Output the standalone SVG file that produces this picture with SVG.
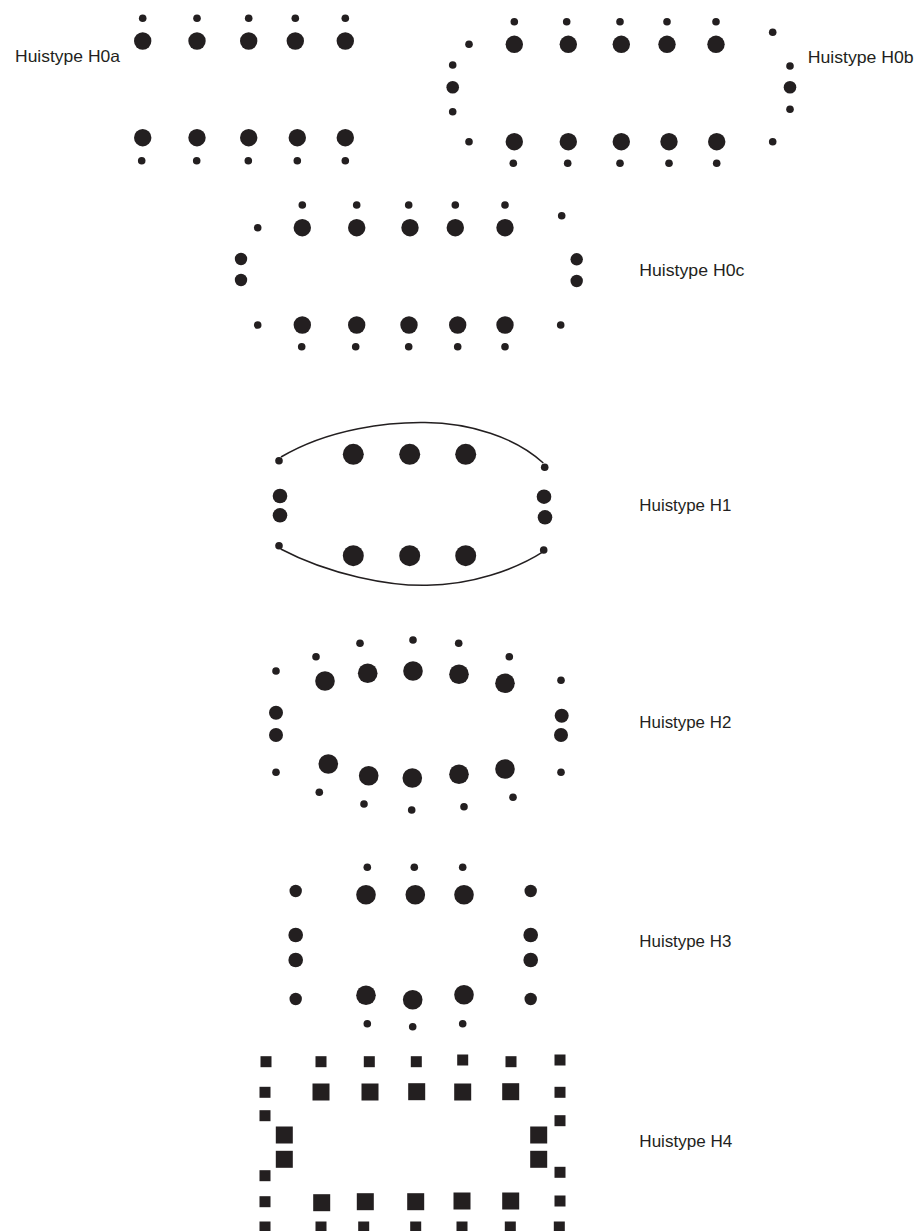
<svg xmlns="http://www.w3.org/2000/svg" width="920" height="1231" viewBox="0 0 920 1231">
<style>
.d{fill:#231f20}
.t{font-family:"Liberation Sans",Arial,sans-serif;font-size:16.5px;fill:#231f20}
.arc{fill:none;stroke:#231f20;stroke-width:1.5}
</style>
<rect width="920" height="1231" fill="#fff"/>
<g id="h0a" class="d">
<circle cx="142.7" cy="18.2" r="3.8"/><circle cx="197" cy="18.2" r="3.8"/><circle cx="248.7" cy="18.2" r="3.8"/><circle cx="295.3" cy="18.2" r="3.8"/><circle cx="345.3" cy="18.2" r="3.8"/>
<circle cx="142.7" cy="41" r="8.7"/><circle cx="197" cy="41" r="8.7"/><circle cx="248.7" cy="41" r="8.7"/><circle cx="295.3" cy="41" r="8.7"/><circle cx="345.3" cy="41" r="8.7"/>
<circle cx="142.7" cy="137.7" r="8.7"/><circle cx="197" cy="137.7" r="8.7"/><circle cx="248.7" cy="137.7" r="8.7"/><circle cx="297.3" cy="137.7" r="8.7"/><circle cx="345.3" cy="137.7" r="8.7"/>
<circle cx="141.7" cy="160.7" r="3.8"/><circle cx="196.7" cy="160.7" r="3.8"/><circle cx="248.3" cy="160.7" r="3.8"/><circle cx="297.3" cy="160.7" r="3.8"/><circle cx="345.3" cy="160.7" r="3.8"/>
<text class="t" x="15" y="61.7" textLength="105" lengthAdjust="spacingAndGlyphs">Huistype H0a</text>
</g>
<g id="h0b" class="d">
<circle cx="514.3" cy="21.7" r="3.8"/><circle cx="566.7" cy="21.7" r="3.8"/><circle cx="620" cy="21.7" r="3.8"/><circle cx="667" cy="21.7" r="3.8"/><circle cx="716" cy="21.7" r="3.8"/>
<circle cx="514.3" cy="44.3" r="8.7"/><circle cx="568.3" cy="44.3" r="8.7"/><circle cx="621.3" cy="44.3" r="8.7"/><circle cx="667" cy="44.3" r="8.7"/><circle cx="716" cy="44.3" r="8.7"/>
<circle cx="469" cy="44.3" r="3.8"/><circle cx="452.7" cy="65" r="3.8"/><circle cx="452.7" cy="87.3" r="6.3"/><circle cx="452.7" cy="111.7" r="3.8"/><circle cx="469" cy="141.7" r="3.8"/>
<circle cx="514.3" cy="141.7" r="8.7"/><circle cx="568.3" cy="141.7" r="8.7"/><circle cx="621.3" cy="141.7" r="8.7"/><circle cx="669" cy="141.7" r="8.7"/><circle cx="716.7" cy="141.7" r="8.7"/>
<circle cx="513.3" cy="163.3" r="3.8"/><circle cx="567.7" cy="163.3" r="3.8"/><circle cx="620" cy="163.3" r="3.8"/><circle cx="669" cy="163.3" r="3.8"/><circle cx="716.7" cy="163.3" r="3.8"/>
<circle cx="772.7" cy="32.3" r="3.8"/><circle cx="790" cy="66" r="3.8"/><circle cx="790" cy="87.3" r="6.3"/><circle cx="790" cy="109.3" r="3.8"/><circle cx="772.7" cy="141.7" r="3.8"/>
<text class="t" x="807.7" y="62.5" textLength="106" lengthAdjust="spacingAndGlyphs">Huistype H0b</text>
</g>
<g id="h0c" class="d">
<circle cx="302.3" cy="205" r="3.8"/><circle cx="356.7" cy="205" r="3.8"/><circle cx="408.7" cy="205" r="3.8"/><circle cx="455.3" cy="205" r="3.8"/><circle cx="505" cy="205" r="3.8"/>
<circle cx="302.3" cy="227.7" r="8.7"/><circle cx="356.7" cy="227.7" r="8.7"/><circle cx="410" cy="227.7" r="8.7"/><circle cx="455.3" cy="227.7" r="8.7"/><circle cx="505" cy="227.7" r="8.7"/>
<circle cx="257.7" cy="227.7" r="3.8"/><circle cx="241" cy="259" r="6.2"/><circle cx="241" cy="280" r="6.2"/><circle cx="257.7" cy="325" r="3.8"/>
<circle cx="302.3" cy="325" r="8.7"/><circle cx="356.7" cy="325" r="8.7"/><circle cx="409" cy="325" r="8.7"/><circle cx="457.7" cy="325" r="8.7"/><circle cx="505" cy="325" r="8.7"/>
<circle cx="301.7" cy="346.7" r="3.8"/><circle cx="355.7" cy="346.7" r="3.8"/><circle cx="408.7" cy="346.7" r="3.8"/><circle cx="457.7" cy="346.7" r="3.8"/><circle cx="505" cy="346.7" r="3.8"/>
<circle cx="561.7" cy="215.7" r="3.8"/><circle cx="576.7" cy="259.3" r="6.2"/><circle cx="576.7" cy="281" r="6.2"/><circle cx="560.7" cy="325" r="3.8"/>
<text class="t" x="639.3" y="275.7" textLength="105" lengthAdjust="spacingAndGlyphs">Huistype H0c</text>
</g>
<g id="h1" class="d">
<path class="arc" d="M281,457 C330,428 390,422 425,422.5 C470,423 515,437 543.3,463"/>
<path class="arc" d="M280.7,549 C330,575 390,586 427,585.3 C470,585 515,570 543.3,551.7"/>
<circle cx="353.3" cy="454.3" r="10.5"/><circle cx="409.7" cy="454.3" r="10.5"/><circle cx="465.7" cy="454.3" r="10.5"/>
<circle cx="353.3" cy="555.7" r="10.5"/><circle cx="409.7" cy="555.7" r="10.5"/><circle cx="465.7" cy="555.7" r="10.5"/>
<circle cx="279" cy="460.7" r="3.8"/><circle cx="280" cy="496" r="7.3"/><circle cx="280" cy="515.3" r="7.3"/><circle cx="279" cy="545.7" r="3.8"/>
<circle cx="544.7" cy="467.3" r="3.8"/><circle cx="544" cy="496.7" r="7.3"/><circle cx="545" cy="517.3" r="7.3"/><circle cx="543.7" cy="550" r="3.8"/>
<text class="t" x="639.3" y="510.7" textLength="92" lengthAdjust="spacingAndGlyphs">Huistype H1</text>
</g>
<g id="h2" class="d">
<circle cx="276" cy="671" r="3.8"/><circle cx="316" cy="656.7" r="3.8"/><circle cx="360" cy="643.3" r="3.8"/><circle cx="413" cy="640" r="3.8"/><circle cx="458.7" cy="643.3" r="3.8"/><circle cx="509.3" cy="656.7" r="3.8"/><circle cx="561" cy="680.3" r="3.8"/>
<circle cx="325" cy="681" r="9.8"/><circle cx="367.7" cy="673.3" r="9.8"/><circle cx="413" cy="671" r="9.8"/><circle cx="459" cy="674.3" r="9.8"/><circle cx="505" cy="683.3" r="9.8"/>
<circle cx="276" cy="712.7" r="7"/><circle cx="276" cy="735" r="7"/><circle cx="561.7" cy="715.7" r="7"/><circle cx="561" cy="735" r="7"/>
<circle cx="276" cy="772.3" r="3.8"/><circle cx="561" cy="772.3" r="3.8"/>
<circle cx="328.3" cy="764" r="9.8"/><circle cx="368.7" cy="775.7" r="9.8"/><circle cx="412.3" cy="778" r="9.8"/><circle cx="459" cy="774.3" r="9.8"/><circle cx="505" cy="769" r="9.8"/>
<circle cx="319.3" cy="792.3" r="3.8"/><circle cx="364" cy="804" r="3.8"/><circle cx="411.7" cy="810" r="3.8"/><circle cx="464" cy="806.7" r="3.8"/><circle cx="513" cy="797.3" r="3.8"/>
<text class="t" x="639.3" y="728.4" textLength="92" lengthAdjust="spacingAndGlyphs">Huistype H2</text>
</g>
<g id="h3" class="d">
<circle cx="367.3" cy="867.3" r="3.8"/><circle cx="414.3" cy="867.3" r="3.8"/><circle cx="462.7" cy="867.3" r="3.8"/>
<circle cx="366" cy="894.7" r="9.8"/><circle cx="415.3" cy="894.7" r="9.8"/><circle cx="464" cy="894.7" r="9.8"/>
<circle cx="295.7" cy="891" r="6.2"/><circle cx="295.7" cy="935" r="7.3"/><circle cx="295.7" cy="960" r="7.3"/><circle cx="295.7" cy="999" r="6.2"/>
<circle cx="530.7" cy="891" r="6.2"/><circle cx="530.7" cy="935" r="7.3"/><circle cx="530.7" cy="960" r="7.3"/><circle cx="530.7" cy="999" r="6.2"/>
<circle cx="366" cy="995.3" r="9.8"/><circle cx="412.7" cy="999.7" r="9.8"/><circle cx="464" cy="994.7" r="9.8"/>
<circle cx="367.3" cy="1023.7" r="3.8"/><circle cx="412.7" cy="1026.7" r="3.8"/><circle cx="462.7" cy="1023.7" r="3.8"/>
<text class="t" x="639.3" y="947.4" textLength="92" lengthAdjust="spacingAndGlyphs">Huistype H3</text>
</g>
<g id="h4" class="d">
<rect x="260.5" y="1056.2" width="11" height="11"/><rect x="315.5" y="1056.2" width="11" height="11"/><rect x="363.8" y="1056.2" width="11" height="11"/><rect x="410.8" y="1056.2" width="11" height="11"/><rect x="457.2" y="1054.5" width="11" height="11"/><rect x="505.5" y="1056.2" width="11" height="11"/><rect x="554.5" y="1054.5" width="11" height="11"/>
<rect x="259.5" y="1086.8" width="11" height="11"/><rect x="554.5" y="1086.8" width="11" height="11"/>
<rect x="312.5" y="1083.5" width="17" height="17"/><rect x="361.5" y="1083.5" width="17" height="17"/><rect x="408.2" y="1083.2" width="17" height="17"/><rect x="454.2" y="1083.5" width="17" height="17"/><rect x="502.2" y="1083.2" width="17" height="17"/>
<rect x="259.5" y="1110.2" width="11" height="11"/><rect x="554.5" y="1115.2" width="11" height="11"/>
<rect x="275.8" y="1126.5" width="17" height="17"/><rect x="275.8" y="1150.8" width="17" height="17"/><rect x="530.2" y="1126.5" width="17" height="17"/><rect x="530.2" y="1150.8" width="17" height="17"/>
<rect x="259.5" y="1170.2" width="11" height="11"/><rect x="554.5" y="1166.8" width="11" height="11"/>
<rect x="313.2" y="1194.2" width="17" height="17"/><rect x="356.8" y="1193.2" width="17" height="17"/><rect x="407.2" y="1193.2" width="17" height="17"/><rect x="453.5" y="1192.5" width="17" height="17"/><rect x="502.2" y="1192.5" width="17" height="17"/>
<rect x="259.5" y="1196.2" width="11" height="11"/><rect x="554.5" y="1195.5" width="11" height="11"/>
<rect x="259.5" y="1221.5" width="11" height="11"/><rect x="315.5" y="1221.5" width="11" height="11"/><rect x="358.2" y="1221.5" width="11" height="11"/><rect x="410.2" y="1221.5" width="11" height="11"/><rect x="456.5" y="1221.5" width="11" height="11"/><rect x="504.8" y="1221.5" width="11" height="11"/><rect x="553.8" y="1221.5" width="11" height="11"/>
<text class="t" x="639.3" y="1147.4" textLength="93" lengthAdjust="spacingAndGlyphs">Huistype H4</text>
</g>
</svg>
